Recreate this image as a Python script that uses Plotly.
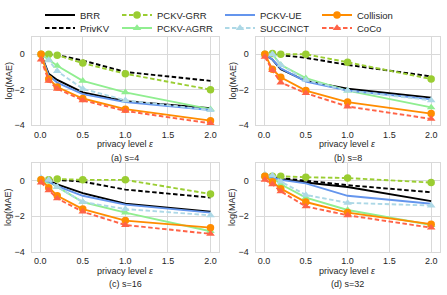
import plotly.graph_objects as go

eps = [0.01, 0.1, 0.2, 0.5, 1.0, 2.0]

methods = ["BRR", "PrivKV", "PCKV-GRR", "PCKV-AGRR", "PCKV-UE", "SUCCINCT", "Collision", "CoCo"]

# log(MAE) values per panel (s=4, s=8, s=16, s=32)
brr = [
    [0.0, -1.1, -1.45, -2.15, -2.65, -3.05],
    [0.0, -0.3, -0.85, -1.5, -1.95, -2.45],
    [0.05, 0.0, -0.2, -0.7, -1.3, -1.75],
    [0.25, 0.2, 0.1, -0.1, -0.35, -1.15],
]
privkv = [
    [0.0, 0.0, -0.05, -0.35, -1.0, -1.5],
    [0.0, 0.0, -0.05, -0.2, -0.6, -1.25],
    [0.05, 0.05, 0.05, -0.05, -0.5, -0.95],
    [0.25, 0.2, 0.15, 0.0, -0.25, -0.65],
]
pckv_grr = [
    [0.0, 0.0, -0.05, -0.5, -1.1, -2.0],
    [0.0, 0.05, 0.0, 0.0, -0.45, -1.4],
    [0.05, 0.05, 0.1, 0.05, 0.05, -0.75],
    [0.25, 0.25, 0.25, 0.2, 0.15, -0.1],
]
pckv_agrr = [
    [0.0, -0.3, -0.65, -1.5, -2.15, -3.1],
    [0.0, 0.0, -0.6, -1.35, -2.05, -3.0],
    [0.05, -0.05, -0.35, -1.2, -1.8, -2.85],
    [0.3, 0.2, -0.2, -0.95, -1.65, -2.5],
]
pckv_ue = [
    [0.0, -1.2, -1.6, -2.25, -2.7, -3.15],
    [0.0, -0.3, -0.8, -1.55, -2.05, -2.55],
    [0.05, -0.05, -0.3, -0.85, -1.35, -1.8],
    [0.3, 0.2, 0.05, -0.15, -0.85, -1.3],
]
succinct = [
    [0.0, -0.35, -0.95, -1.95, -2.6, -3.15],
    [0.0, 0.0, -0.6, -1.45, -2.05, -2.6],
    [0.15, 0.05, -0.35, -1.2, -1.6, -1.95],
    [0.35, 0.3, -0.05, -0.8, -1.25, -1.4],
]
collision = [
    [0.0, -1.4, -1.85, -2.5, -3.1, -3.75],
    [0.0, -0.85, -1.3, -2.05, -2.7, -3.35],
    [0.05, -0.4, -0.85, -1.6, -2.25, -2.65],
    [0.25, -0.05, -0.45, -1.2, -1.8, -2.45],
]
coco = [
    [-0.3, -1.5, -1.95, -2.6, -3.2, -3.9],
    [-0.15, -0.9, -1.6, -2.2, -2.95, -3.65],
    [-0.1, -0.55, -1.0, -1.75, -2.5, -3.0],
    [0.05, -0.2, -0.6, -1.45, -1.95, -2.65],
]

panel_titles = ["(a) s=4", "(b) s=8", "(c) s=16", "(d) s=32"]
x_ticks = [0.0, 0.5, 1.0, 1.5, 2.0]
x_ticklabels = ["0.0", "0.5", "1.0", "1.5", "2.0"]
y_ticks = [-4, -2, 0]

series = [brr, privkv, pckv_grr, pckv_agrr, pckv_ue, succinct, collision, coco]

DASH = "4.5px,2.5px"
styles = {
    "BRR": dict(color="#000000", dash="solid", symbol=None),
    "PrivKV": dict(color="#000000", dash=DASH, symbol=None),
    "PCKV-GRR": dict(color="#9acd32", dash=DASH, symbol="circle"),
    "PCKV-AGRR": dict(color="#90ee90", dash="solid", symbol="triangle-up"),
    "PCKV-UE": dict(color="#6495ed", dash="solid", symbol=None),
    "SUCCINCT": dict(color="#add8e6", dash=DASH, symbol="triangle-up"),
    "Collision": dict(color="#ff8c00", dash="solid", symbol="circle"),
    "CoCo": dict(color="#ff6347", dash=DASH, symbol="triangle-up"),
}
# legend slot (column, row) for each method
legend_slot = {
    "BRR": (0, 0), "PrivKV": (0, 1),
    "PCKV-GRR": (1, 0), "PCKV-AGRR": (1, 1),
    "PCKV-UE": (2, 0), "SUCCINCT": (2, 1),
    "Collision": (3, 0), "CoCo": (3, 1),
}

W, H = 447, 295
# panel pixel boxes: (left, right, top, bottom)
boxes = [
    (31.7, 219.0, 34.5, 125.5),
    (255.7, 439.5, 34.5, 125.5),
    (31.7, 219.0, 164.5, 255.5),
    (255.7, 439.5, 164.5, 255.5),
]

fig = go.Figure()
FONT = "Liberation Sans, Arial, sans-serif"
TXT = "#262626"
GRID = "#d9d9d9"

for p in range(4):
    ax = "" if p == 0 else str(p + 1)
    for mi, m in enumerate(methods):
        st = styles[m]
        legname = "legend" if mi == 0 else "legend%d" % (mi + 1)
        mode = "lines+markers" if st["symbol"] else "lines"
        kw = dict(
            x=eps, y=series[mi][p], mode=mode, name=m,
            line=dict(color=st["color"], width=1.9, dash=st["dash"]),
            xaxis="x" + ax, yaxis="y" + ax,
            showlegend=(p == 0), legend=legname,
            hoverinfo="skip",
        )
        if st["symbol"]:
            kw["marker"] = dict(symbol=st["symbol"], size=7.5, color=st["color"], line=dict(width=0))
        fig.add_trace(go.Scatter(**kw))

layout = dict(
    width=W, height=H,
    margin=dict(l=0, r=0, t=0, b=0),
    paper_bgcolor="white", plot_bgcolor="white",
    font=dict(family=FONT, size=9, color=TXT),
    showlegend=True,
)

annotations = []
for p, (l, r, t, b) in enumerate(boxes):
    ax = "" if p == 0 else str(p + 1)
    layout["xaxis" + ax] = dict(
        domain=[l / W, r / W], range=[-0.1, 2.1], anchor="y" + ax,
        tickvals=x_ticks, ticktext=x_ticklabels,
        showgrid=True, gridcolor=GRID, gridwidth=1,
        showline=True, linecolor=GRID, linewidth=1.2, mirror=True,
        zeroline=False, ticks="", ticklabelstandoff=1,
        tickfont=dict(size=9, color=TXT, family=FONT),
    )
    layout["yaxis" + ax] = dict(
        domain=[1 - b / H, 1 - t / H], range=[-4, 1], anchor="x" + ax,
        tickvals=y_ticks,
        showgrid=True, gridcolor=GRID, gridwidth=1,
        showline=True, linecolor=GRID, linewidth=1.2, mirror=True,
        zeroline=False, ticks="", ticklabelstandoff=4,
        tickfont=dict(size=9, color=TXT, family=FONT),
    )
    cx = (l + r) / 2
    annotations.append(dict(
        text="privacy level <i>ε</i>", x=cx / W, y=1 - (b + 19.5) / H,
        xref="paper", yref="paper", showarrow=False,
        font=dict(size=9, color=TXT, family=FONT), xanchor="center", yanchor="middle",
    ))
    annotations.append(dict(
        text=panel_titles[p], x=cx / W, y=1 - (b + 33.5) / H,
        xref="paper", yref="paper", showarrow=False,
        font=dict(size=9, color=TXT, family=FONT), xanchor="center", yanchor="middle",
    ))
    annotations.append(dict(
        text="log(MAE)", x=(l - 23) / W, y=1 - ((t + b) / 2) / H,
        xref="paper", yref="paper", showarrow=False, textangle=-90,
        font=dict(size=9, color=TXT, family=FONT), xanchor="center", yanchor="middle",
    ))
layout["annotations"] = annotations

col_text_x = [80, 157, 260, 357]
row_y = [12.3, 25.7]
for mi, m in enumerate(methods):
    col, row = legend_slot[m]
    key = "legend" if mi == 0 else "legend%d" % (mi + 1)
    layout[key] = dict(
        x=(col_text_x[col] - 40) / W, y=1 - row_y[row] / H,
        xanchor="left", yanchor="middle", xref="paper", yref="paper",
        bgcolor="rgba(0,0,0,0)", borderwidth=0,
        font=dict(size=9.5, color=TXT, family=FONT),
        itemwidth=30,
    )

fig.update_layout(**layout)
fig.write_html("out.html", config={"displayModeBar": False},
               post_script="document.body.style.margin='0px';")
